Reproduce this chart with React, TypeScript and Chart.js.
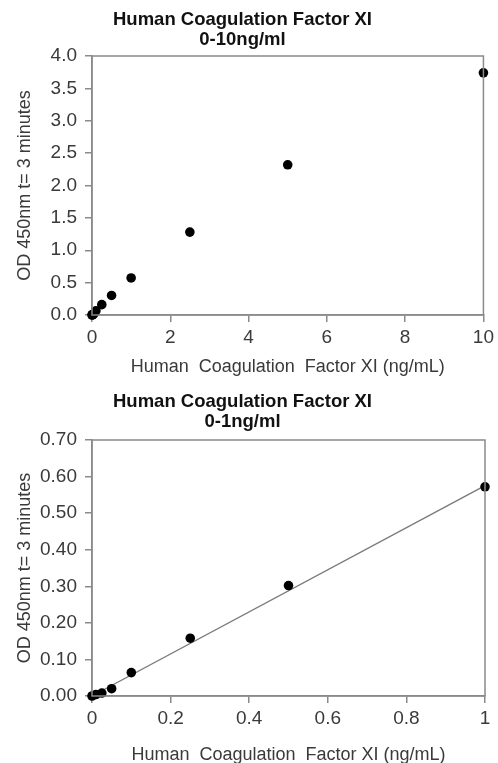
import React, { useEffect, useRef } from 'react';
import { Chart, registerables } from 'chart.js';
Chart.register(...registerables);

const FONT = '"Liberation Sans", Arial, Helvetica, sans-serif';

const topTitle = ['Human Coagulation Factor XI', '0-10ng/ml'];
const bottomTitle = ['Human Coagulation Factor XI', '0-1ng/ml'];
const xAxisTitle = 'Human  Coagulation  Factor XI (ng/mL)';
const yAxisTitle = 'OD 450nm t= 3 minutes';

const topConc = [0, 0.01, 0.025, 0.05, 0.1, 0.25, 0.5, 1, 2.5, 5, 10];
const topOD = [0, 0.004, 0.008, 0.02, 0.065, 0.16, 0.302, 0.572, 1.28, 2.32, 3.74];
const bottomConc = [0, 0.01, 0.025, 0.05, 0.1, 0.25, 0.5, 1];
const bottomOD = [0, 0.004, 0.008, 0.02, 0.064, 0.158, 0.302, 0.572];
const fitConc = [0, 1];
const fitOD = [0, 0.575];

const AXIS_GRAY = '#8a8a8a';
const TICK_COLOR = '#3a3a3a';

const boxPlugin = {
  id: 'boxFrame',
  afterDatasetsDraw(chart: any) {
    const { ctx, chartArea } = chart;
    ctx.save();
    ctx.strokeStyle = AXIS_GRAY;
    ctx.lineWidth = 1.5;
    ctx.strokeRect(chartArea.left, chartArea.top, chartArea.right - chartArea.left, chartArea.bottom - chartArea.top);
    ctx.restore();
  },
};

function makeConfig(opts: {
  title: string[];
  xs: number[];
  ys: number[];
  fitX?: number[];
  fitY?: number[];
  xMax: number;
  xStep: number;
  yMax: number;
  yStep: number;
  yDigits: number;
  xDigits: (v: number) => string;
  xHeight: number;
  xTitlePad: number;
  titlePad: { top: number; bottom: number };
}): any {
  const datasets: any[] = [
    {
      type: 'scatter',
      data: opts.xs.map((x, i) => ({ x, y: opts.ys[i] })),
      pointRadius: 4.8,
      pointBackgroundColor: '#000',
      pointBorderColor: '#000',
      pointBorderWidth: 0,
      showLine: false,
      clip: false,
      order: 1,
    },
  ];
  if (opts.fitX && opts.fitY) {
    datasets.push({
      type: 'line',
      data: opts.fitX.map((x, i) => ({ x, y: opts.fitY![i] })),
      borderColor: '#7a7a7a',
      borderWidth: 1.4,
      pointRadius: 0,
      fill: false,
      tension: 0,
      clip: false,
      order: 2,
    });
  }
  return {
    type: 'scatter',
    data: { datasets },
    plugins: [boxPlugin],
    options: {
      animation: false,
      responsive: false,
      devicePixelRatio: 1,
      layout: { padding: { left: 0, right: 13, top: 0, bottom: 0 } },
      plugins: {
        legend: { display: false },
        tooltip: { enabled: false },
        title: {
          display: true,
          text: opts.title,
          color: '#111',
          font: { family: FONT, size: 18.5, weight: 'bold', lineHeight: '20px' },
          padding: opts.titlePad,
        },
      },
      scales: {
        x: {
          type: 'linear',
          min: 0,
          max: opts.xMax,
          afterFit(scale: any) {
            scale.height = opts.xHeight;
          },
          ticks: {
            stepSize: opts.xStep,
            color: TICK_COLOR,
            font: { family: FONT, size: 19 },
            padding: 4,
            maxRotation: 0,
            callback: (v: any) => opts.xDigits(Number(v)),
          },
          grid: {
            drawOnChartArea: false,
            drawTicks: true,
            tickLength: 7,
            color: AXIS_GRAY,
            lineWidth: 1.5,
          },
          border: { display: true, color: AXIS_GRAY, width: 1.5 },
          title: {
            display: true,
            text: xAxisTitle,
            color: TICK_COLOR,
            font: { family: FONT, size: 18, lineHeight: 1.2 },
            padding: { top: 0, bottom: opts.xTitlePad },
          },
        },
        y: {
          type: 'linear',
          min: 0,
          max: opts.yMax,
          afterFit(scale: any) {
            scale.width = 92;
          },
          ticks: {
            stepSize: opts.yStep,
            color: TICK_COLOR,
            font: { family: FONT, size: 19 },
            padding: 8,
            callback: (v: any) => Number(v).toFixed(opts.yDigits),
          },
          grid: {
            drawOnChartArea: false,
            drawTicks: true,
            tickLength: 7,
            color: AXIS_GRAY,
            lineWidth: 1.5,
          },
          border: { display: true, color: AXIS_GRAY, width: 1.5 },
          title: {
            display: true,
            text: yAxisTitle,
            color: TICK_COLOR,
            font: { family: FONT, size: 18, lineHeight: 1.2 },
            padding: { top: 14, bottom: 0 },
          },
        },
      },
    },
  };
}

function ChartCanvas({ config, height }: { config: any; height: number }) {
  const ref = useRef<HTMLCanvasElement | null>(null);
  useEffect(() => {
    if (!ref.current) return;
    const chart = new Chart(ref.current, config);
    return () => chart.destroy();
  }, [config]);
  return (
    <div style={{ width: 498, height, position: 'relative' }}>
      <canvas ref={ref} width={498} height={height} style={{ display: 'block', width: 498, height }} />
    </div>
  );
}

const topConfig = makeConfig({
  title: topTitle,
  xs: topConc,
  ys: topOD,
  xMax: 10,
  xStep: 2,
  yMax: 4,
  yStep: 0.5,
  yDigits: 1,
  xDigits: (v) => String(v),
  xHeight: 65,
  xTitlePad: 2,
  titlePad: { top: 10, bottom: 6 },
});

const bottomConfig = makeConfig({
  title: bottomTitle,
  xs: bottomConc,
  ys: bottomOD,
  fitX: fitConc,
  fitY: fitOD,
  xMax: 1,
  xStep: 0.2,
  yMax: 0.7,
  yStep: 0.1,
  yDigits: 2,
  xDigits: (v) => String(Math.round(v * 10) / 10),
  xHeight: 67,
  xTitlePad: -3,
  titlePad: { top: 12, bottom: 8 },
});

export default function App() {
  return (
    <div style={{ position: 'absolute', left: 0, top: 0, width: 498, height: 763, background: '#fff' }}>
      <ChartCanvas config={topConfig} height={380} />
      <ChartCanvas config={bottomConfig} height={383} />
    </div>
  );
}
